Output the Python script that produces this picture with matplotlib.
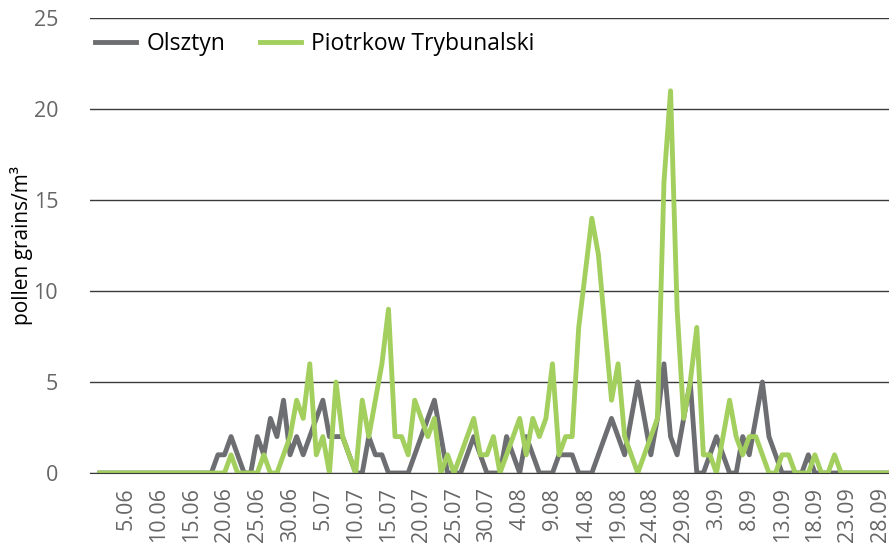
import matplotlib.pyplot as plt
import numpy as np

plt.rcParams['font.family'] = ['Open Sans', 'DejaVu Sans']

# daily counts, 1.06 - 30.09
olsztyn = [0, 0, 0, 0, 0, 0, 0, 0, 0, 0,
           0, 0, 0, 0, 0, 0, 0, 0, 1, 1,
           2, 1, 0, 0, 2, 1, 3, 2, 4, 1,
           2, 1, 2, 3, 4, 2, 2, 2, 1, 0,
           0, 2, 1, 1, 0, 0, 0, 0, 1, 2,
           3, 4, 2, 0, 0, 0, 1, 2, 1, 0,
           0, 0, 2, 1, 0, 2, 1, 0, 0, 0,
           1, 1, 1, 0, 0, 0, 1, 2, 3, 2,
           1, 3, 5, 3, 1, 3, 6, 2, 1, 3,
           5, 0, 0, 1, 2, 1, 0, 0, 2, 1,
           3, 5, 2, 1, 0, 0, 0, 0, 1, 0,
           0, 0, 0, 0, 0, 0, 0, 0, 0, 0,
           0, 0]
piotrkow = [0, 0, 0, 0, 0, 0, 0, 0, 0, 0,
            0, 0, 0, 0, 0, 0, 0, 0, 0, 0,
            1, 0, 0, 0, 0, 1, 0, 0, 1, 2,
            4, 3, 6, 1, 2, 0, 5, 2, 1, 0,
            4, 2, 4, 6, 9, 2, 2, 1, 4, 3,
            2, 3, 0, 1, 0, 1, 2, 3, 1, 1,
            2, 0, 1, 2, 3, 1, 3, 2, 3, 6,
            1, 2, 2, 8, 11, 14, 12, 8, 4, 6,
            2, 1, 0, 1, 2, 3, 16, 21, 9, 3,
            5, 8, 1, 1, 0, 2, 4, 2, 1, 2,
            2, 1, 0, 0, 1, 1, 0, 0, 0, 1,
            0, 0, 1, 0, 0, 0, 0, 0, 0, 0,
            0, 0]

dates = []
for month, ndays in [('06', 30), ('07', 31), ('08', 31), ('09', 30)]:
    for d in range(1, ndays + 1):
        dates.append(f'{d}.{month}')

x = np.arange(len(olsztyn))
tick_idx = list(range(4, len(dates), 5))

fig = plt.figure(figsize=(8.89, 5.47), dpi=100)
ax = fig.add_axes([90 / 889, 1 - 473 / 547, 1 - 90 / 889, (473 - 18) / 547])

ax.plot(x, olsztyn, color='#6d6e71', lw=3.5, label='Olsztyn', solid_joinstyle='round')
ax.plot(x, piotrkow, color='#a2cf5e', lw=3.5, label='Piotrkow Trybunalski', solid_joinstyle='round')

ax.set_xlim(-1.5, 120.3)
ax.set_ylim(0, 25)
ax.set_yticks(range(0, 26, 5))
ax.yaxis.grid(True, color='#3a3a3a', lw=1)
ax.set_axisbelow(True)
for s in ['top', 'right', 'left']:
    ax.spines[s].set_visible(False)
ax.spines['bottom'].set_color('#3a3a3a')
ax.tick_params(axis='both', length=0, labelsize=15.5, colors='#666666')
ax.tick_params(axis='y', pad=23)
ax.tick_params(axis='x', pad=10)
ax.set_xticks(tick_idx)
ax.set_xticklabels([dates[i] for i in tick_idx], rotation=90)

ax.set_ylabel('pollen grains/m³', fontsize=15)
ax.yaxis.set_label_coords(-0.071, 0.5)

ax.legend(loc='upper left', bbox_to_anchor=(5 / 799, 0.969), ncol=2, frameon=False,
          fontsize=16.5, handlelength=1.8, columnspacing=1.5, handletextpad=0.45,
          borderpad=0, borderaxespad=0)

fig.savefig('out.png', dpi=100)
